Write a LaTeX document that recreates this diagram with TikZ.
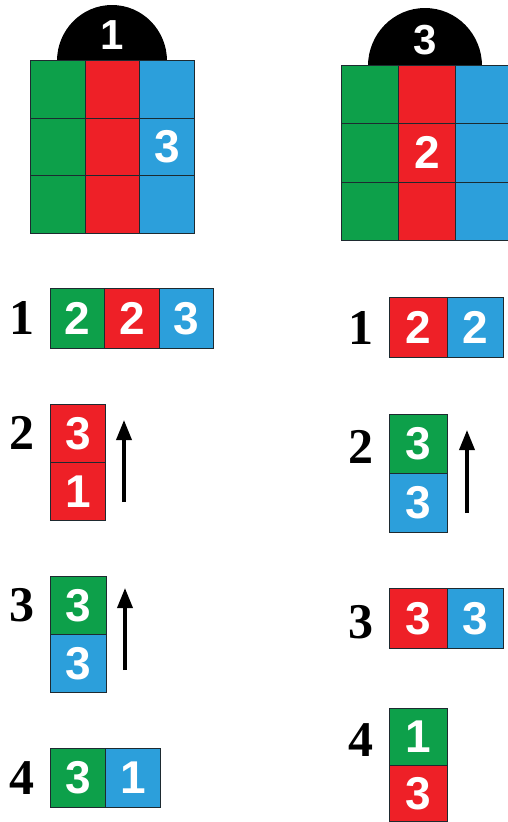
\documentclass[tikz,border=0pt]{standalone}
\usepackage{fontspec}
\setmainfont{Liberation Sans}
\newfontfamily\labfont{Liberation Serif}
\usetikzlibrary{arrows.meta}
\definecolor{cgreen}{HTML}{0DA04A}
\definecolor{cred}{HTML}{EE2027}
\definecolor{cblue}{HTML}{2C9FDB}
\definecolor{cedge}{HTML}{1E2A30}
\tikzset{
  cell/.style={rectangle, draw=cedge, line width=0.9pt, inner sep=0pt, anchor=north west,
    text=white, font=\bfseries\fontsize{46}{46}\selectfont},
  steplabel/.style={inner sep=0pt, text=black, font=\labfont\bfseries\fontsize{50}{50}\selectfont},
  domelabel/.style={inner sep=0pt, text=white, font=\bfseries\fontsize{42}{42}\selectfont},
  movearrow/.style={line width=3.5pt, -{Triangle[length=20pt,width=15pt]}},
}
\begin{document}
\begin{tikzpicture}[x=1pt,y=-1pt]
\useasboundingbox (0,0) rectangle (508,822);
\fill[white] (0,0) rectangle (508,822);

% ---------- left cube ----------
\fill[black] (57,61) arc[start angle=180,end angle=360,x radius=55,y radius=56] -- cycle;
\node[domelabel] (ldome) at (112,35) {1};
\foreach \r/\y in {1/60,2/117.7,3/175.4}{
  \node[cell, minimum width=55, minimum height=57.7, fill=cgreen] (lc\r a) at (30,\y) {};
  \node[cell, minimum width=54, minimum height=57.7, fill=cred] (lc\r b) at (85,\y) {};
  \node[cell, minimum width=55, minimum height=57.7, fill=cblue] (lc\r c) at (139,\y) {};
}
\node[text=white, font=\bfseries\fontsize{46}{46}\selectfont] (lc3num) at (lc2c) {3};

% ---------- right cube ----------
\fill[black] (368,66) arc[start angle=180,end angle=360,x radius=57,y radius=58] -- cycle;
\node[domelabel] (rdome) at (425,40) {3};
\foreach \r/\y in {1/65,2/123.3,3/181.6}{
  \node[cell, minimum width=57, minimum height=58.3, fill=cgreen] (rc\r a) at (341,\y) {};
  \node[cell, minimum width=57, minimum height=58.3, fill=cred] (rc\r b) at (398,\y) {};
  \node[cell, minimum width=53, minimum height=58.3, fill=cblue] (rc\r c) at (455,\y) {};
}
\node[text=white, font=\bfseries\fontsize{46}{46}\selectfont] (rc2num) at (rc2b) {2};

% ---------- left steps ----------
\node[steplabel] (ls1) at (22,318) {1};
\node[cell, minimum width=54.3, minimum height=60, fill=cgreen] (l1a) at (50,288) {2};
\node[cell, minimum width=54.3, minimum height=60, fill=cred] (l1b) at (104.3,288) {2};
\node[cell, minimum width=54.3, minimum height=60, fill=cblue] (l1c) at (158.6,288) {3};

\node[steplabel] (ls2) at (22,433) {2};
\node[cell, minimum width=55, minimum height=58, fill=cred] (l2a) at (50,404) {3};
\node[cell, minimum width=55, minimum height=58, fill=cred] (l2b) at (50,462) {1};
\coordinate (l2s) at (124,502);
\coordinate (l2e) at (124,420);
\draw[movearrow] (l2s) -- (l2e);

\node[steplabel] (ls3) at (22,605) {3};
\node[cell, minimum width=56, minimum height=58, fill=cgreen] (l3a) at (50,576) {3};
\node[cell, minimum width=56, minimum height=58, fill=cblue] (l3b) at (50,634) {3};
\coordinate (l3s) at (125,670);
\coordinate (l3e) at (125,588);
\draw[movearrow] (l3s) -- (l3e);

\node[steplabel] (ls4) at (22,778) {4};
\node[cell, minimum width=55, minimum height=59, fill=cgreen] (l4a) at (50,748) {3};
\node[cell, minimum width=55, minimum height=59, fill=cblue] (l4b) at (105,748) {1};

% ---------- right steps ----------
\node[steplabel] (rs1) at (361,328) {1};
\node[cell, minimum width=58, minimum height=60, fill=cred] (r1a) at (389,297) {2};
\node[cell, minimum width=56, minimum height=60, fill=cblue] (r1b) at (447,297) {2};

\node[steplabel] (rs2) at (361,447) {2};
\node[cell, minimum width=58, minimum height=59, fill=cgreen] (r2a) at (389,414) {3};
\node[cell, minimum width=58, minimum height=59, fill=cblue] (r2b) at (389,473) {3};
\coordinate (r2s) at (467,513);
\coordinate (r2e) at (467,430);
\draw[movearrow] (r2s) -- (r2e);

\node[steplabel] (rs3) at (361,622) {3};
\node[cell, minimum width=58, minimum height=60, fill=cred] (r3a) at (389,588) {3};
\node[cell, minimum width=56, minimum height=60, fill=cblue] (r3b) at (447,588) {3};

\node[steplabel] (rs4) at (361,740) {4};
\node[cell, minimum width=58, minimum height=57, fill=cgreen] (r4a) at (389,708) {1};
\node[cell, minimum width=58, minimum height=56, fill=cred] (r4b) at (389,765) {3};
\end{tikzpicture}
\end{document}
